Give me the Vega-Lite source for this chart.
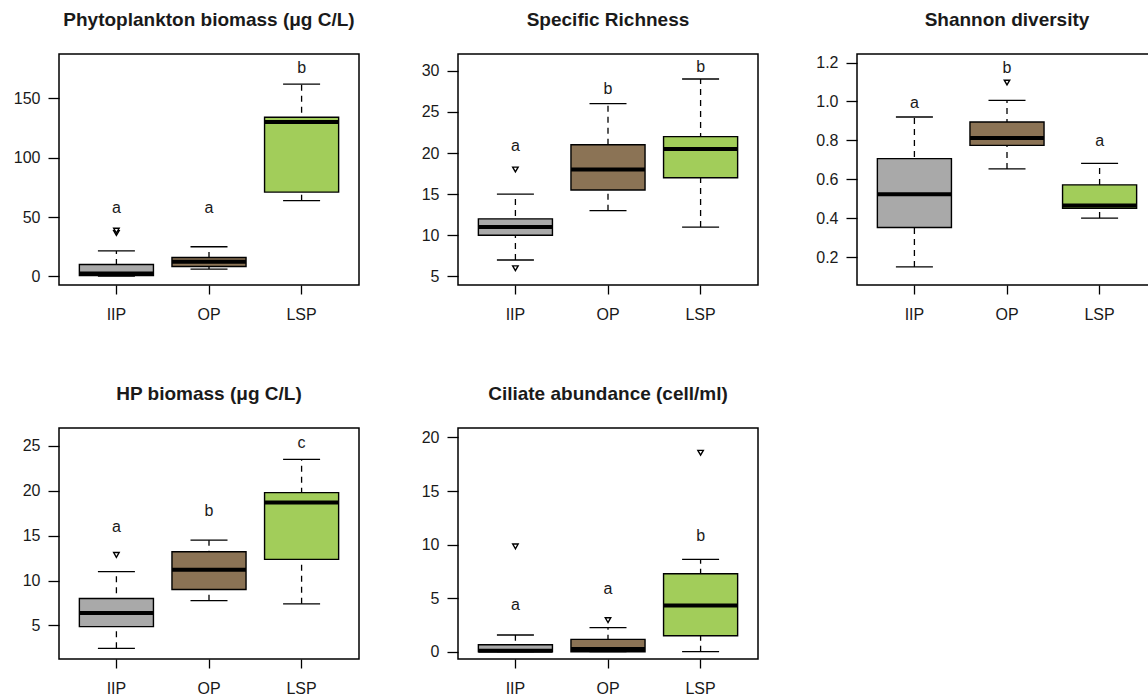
{
  "$schema": "https://vega.github.io/schema/vega-lite/v6.json",
  "background": "white",
  "padding": {"left": 12, "top": 10, "right": 0, "bottom": 0},
  "datasets": {
    "stats": [
      {"panel": "phyto", "group": "IIP", "lo": 0.3, "q1": 0.8, "med": 2.5, "q3": 10, "hi": 21.5, "letter": "a", "ly": 58},
      {"panel": "phyto", "group": "OP", "lo": 6.2, "q1": 8.4, "med": 12.4, "q3": 16, "hi": 25, "letter": "a", "ly": 58},
      {"panel": "phyto", "group": "LSP", "lo": 63.8, "q1": 71, "med": 130, "q3": 134, "hi": 161.8, "letter": "b", "ly": 175.5},
      {"panel": "rich", "group": "IIP", "lo": 7, "q1": 10, "med": 11, "q3": 12, "hi": 15, "letter": "a", "ly": 20.9},
      {"panel": "rich", "group": "OP", "lo": 13, "q1": 15.5, "med": 18, "q3": 21, "hi": 26, "letter": "b", "ly": 27.8},
      {"panel": "rich", "group": "LSP", "lo": 11, "q1": 17, "med": 20.5, "q3": 22, "hi": 29, "letter": "b", "ly": 30.5},
      {"panel": "shannon", "group": "IIP", "lo": 0.149, "q1": 0.352, "med": 0.523, "q3": 0.706, "hi": 0.92, "letter": "a", "ly": 0.991},
      {"panel": "shannon", "group": "OP", "lo": 0.653, "q1": 0.774, "med": 0.812, "q3": 0.894, "hi": 1.005, "letter": "b", "ly": 1.171},
      {"panel": "shannon", "group": "LSP", "lo": 0.40, "q1": 0.451, "med": 0.465, "q3": 0.571, "hi": 0.682, "letter": "a", "ly": 0.795},
      {"panel": "hp", "group": "IIP", "lo": 2.44, "q1": 4.86, "med": 6.38, "q3": 8.0, "hi": 11.0, "letter": "a", "ly": 16.0},
      {"panel": "hp", "group": "OP", "lo": 7.75, "q1": 9.0, "med": 11.2, "q3": 13.2, "hi": 14.5, "letter": "b", "ly": 17.8},
      {"panel": "hp", "group": "LSP", "lo": 7.4, "q1": 12.36, "med": 18.7, "q3": 19.8, "hi": 23.5, "letter": "c", "ly": 25.3},
      {"panel": "cil", "group": "IIP", "lo": 0, "q1": 0, "med": 0.1, "q3": 0.65, "hi": 1.56, "letter": "a", "ly": 4.36},
      {"panel": "cil", "group": "OP", "lo": 0, "q1": 0, "med": 0.25, "q3": 1.15, "hi": 2.24, "letter": "a", "ly": 5.9},
      {"panel": "cil", "group": "LSP", "lo": 0, "q1": 1.49, "med": 4.32, "q3": 7.28, "hi": 8.61, "letter": "b", "ly": 10.82}
    ],
    "outliers": [
      {"panel": "phyto", "group": "IIP", "value": 36.5},
      {"panel": "phyto", "group": "IIP", "value": 38.5},
      {"panel": "rich", "group": "IIP", "value": 18},
      {"panel": "rich", "group": "IIP", "value": 6},
      {"panel": "shannon", "group": "OP", "value": 1.097},
      {"panel": "hp", "group": "IIP", "value": 12.85},
      {"panel": "cil", "group": "IIP", "value": 9.83},
      {"panel": "cil", "group": "OP", "value": 2.95},
      {"panel": "cil", "group": "LSP", "value": 18.57}
    ]
  },
  "columns": 3,
  "spacing": {"row": 143, "column": 99},
  "bounds": "flush",
  "concat": [
    {
      "width": 300, "height": 231,
      "title": "Phytoplankton biomass (μg C/L)",
      "data": {"name": "stats"},
      "transform": [{"filter": "datum.panel === 'phyto'"}],
      "encoding": {"x": {"field": "group", "type": "nominal", "sort": ["IIP", "OP", "LSP"], "title": null, "scale": {"paddingInner": 0.2, "paddingOuter": 0.22}}},
      "layer": [
        {"mark": {"type": "rule", "strokeDash": [6, 5], "color": "black", "strokeWidth": 1.3},
         "encoding": {"y": {"field": "lo", "type": "quantitative", "title": null, "scale": {"domain": [-7.2, 187.2], "nice": false, "zero": false}, "axis": {"values": [0, 50, 100, 150]}}, "y2": {"field": "hi"}}},
        {"mark": {"type": "tick", "size": 37, "thickness": 1.3, "color": "black", "opacity": 1}, "encoding": {"y": {"field": "lo", "type": "quantitative", "title": null}}},
        {"mark": {"type": "tick", "size": 37, "thickness": 1.3, "color": "black", "opacity": 1}, "encoding": {"y": {"field": "hi", "type": "quantitative", "title": null}}},
        {"mark": {"type": "bar", "stroke": "black", "strokeWidth": 1.4, "opacity": 1},
         "encoding": {"y": {"field": "q1", "type": "quantitative", "title": null}, "y2": {"field": "q3"},
           "fill": {"field": "group", "type": "nominal", "scale": {"domain": ["IIP", "OP", "LSP"], "range": ["#A9A9A9", "#8B7355", "#A2CD5A"]}, "legend": null}}},
        {"mark": {"type": "tick", "size": 74, "thickness": 4, "color": "black", "opacity": 1}, "encoding": {"y": {"field": "med", "type": "quantitative", "title": null}}},
        {"data": {"name": "outliers"}, "transform": [{"filter": "datum.panel === 'phyto'"}],
         "mark": {"type": "point", "shape": "triangle-down", "size": 30, "filled": true, "fill": "white", "stroke": "black", "strokeWidth": 1.4, "opacity": 1},
         "encoding": {"y": {"field": "value", "type": "quantitative", "title": null}}},
        {"mark": {"type": "text", "fontSize": 16, "baseline": "middle", "font": "Liberation Sans", "color": "#1a1a1a"},
         "encoding": {"y": {"field": "ly", "type": "quantitative", "title": null}, "text": {"field": "letter"}}}
      ]
    },
    {
      "width": 300, "height": 231,
      "title": "Specific Richness",
      "data": {"name": "stats"},
      "transform": [{"filter": "datum.panel === 'rich'"}],
      "encoding": {"x": {"field": "group", "type": "nominal", "sort": ["IIP", "OP", "LSP"], "title": null, "scale": {"paddingInner": 0.2, "paddingOuter": 0.22}}},
      "layer": [
        {"mark": {"type": "rule", "strokeDash": [6, 5], "color": "black", "strokeWidth": 1.3},
         "encoding": {"y": {"field": "lo", "type": "quantitative", "title": null, "scale": {"domain": [3.96, 32.04], "nice": false, "zero": false}, "axis": {"values": [5, 10, 15, 20, 25, 30]}}, "y2": {"field": "hi"}}},
        {"mark": {"type": "tick", "size": 37, "thickness": 1.3, "color": "black", "opacity": 1}, "encoding": {"y": {"field": "lo", "type": "quantitative", "title": null}}},
        {"mark": {"type": "tick", "size": 37, "thickness": 1.3, "color": "black", "opacity": 1}, "encoding": {"y": {"field": "hi", "type": "quantitative", "title": null}}},
        {"mark": {"type": "bar", "stroke": "black", "strokeWidth": 1.4, "opacity": 1},
         "encoding": {"y": {"field": "q1", "type": "quantitative", "title": null}, "y2": {"field": "q3"},
           "fill": {"field": "group", "type": "nominal", "scale": {"domain": ["IIP", "OP", "LSP"], "range": ["#A9A9A9", "#8B7355", "#A2CD5A"]}, "legend": null}}},
        {"mark": {"type": "tick", "size": 74, "thickness": 4, "color": "black", "opacity": 1}, "encoding": {"y": {"field": "med", "type": "quantitative", "title": null}}},
        {"data": {"name": "outliers"}, "transform": [{"filter": "datum.panel === 'rich'"}],
         "mark": {"type": "point", "shape": "triangle-down", "size": 30, "filled": true, "fill": "white", "stroke": "black", "strokeWidth": 1.4, "opacity": 1},
         "encoding": {"y": {"field": "value", "type": "quantitative", "title": null}}},
        {"mark": {"type": "text", "fontSize": 16, "baseline": "middle", "font": "Liberation Sans", "color": "#1a1a1a"},
         "encoding": {"y": {"field": "ly", "type": "quantitative", "title": null}, "text": {"field": "letter"}}}
      ]
    },
    {
      "width": 300, "height": 231,
      "title": "Shannon diversity",
      "data": {"name": "stats"},
      "transform": [{"filter": "datum.panel === 'shannon'"}],
      "encoding": {"x": {"field": "group", "type": "nominal", "sort": ["IIP", "OP", "LSP"], "title": null, "scale": {"paddingInner": 0.2, "paddingOuter": 0.22}}},
      "layer": [
        {"mark": {"type": "rule", "strokeDash": [6, 5], "color": "black", "strokeWidth": 1.3},
         "encoding": {"y": {"field": "lo", "type": "quantitative", "title": null, "scale": {"domain": [0.056, 1.244], "nice": false, "zero": false}, "axis": {"values": [0.2, 0.4, 0.6, 0.8, 1.0, 1.2], "format": ".1f"}}, "y2": {"field": "hi"}}},
        {"mark": {"type": "tick", "size": 37, "thickness": 1.3, "color": "black", "opacity": 1}, "encoding": {"y": {"field": "lo", "type": "quantitative", "title": null}}},
        {"mark": {"type": "tick", "size": 37, "thickness": 1.3, "color": "black", "opacity": 1}, "encoding": {"y": {"field": "hi", "type": "quantitative", "title": null}}},
        {"mark": {"type": "bar", "stroke": "black", "strokeWidth": 1.4, "opacity": 1},
         "encoding": {"y": {"field": "q1", "type": "quantitative", "title": null}, "y2": {"field": "q3"},
           "fill": {"field": "group", "type": "nominal", "scale": {"domain": ["IIP", "OP", "LSP"], "range": ["#A9A9A9", "#8B7355", "#A2CD5A"]}, "legend": null}}},
        {"mark": {"type": "tick", "size": 74, "thickness": 4, "color": "black", "opacity": 1}, "encoding": {"y": {"field": "med", "type": "quantitative", "title": null}}},
        {"data": {"name": "outliers"}, "transform": [{"filter": "datum.panel === 'shannon'"}],
         "mark": {"type": "point", "shape": "triangle-down", "size": 30, "filled": true, "fill": "white", "stroke": "black", "strokeWidth": 1.4, "opacity": 1},
         "encoding": {"y": {"field": "value", "type": "quantitative", "title": null}}},
        {"mark": {"type": "text", "fontSize": 16, "baseline": "middle", "font": "Liberation Sans", "color": "#1a1a1a"},
         "encoding": {"y": {"field": "ly", "type": "quantitative", "title": null}, "text": {"field": "letter"}}}
      ]
    },
    {
      "width": 300, "height": 231,
      "title": "HP biomass (μg C/L)",
      "data": {"name": "stats"},
      "transform": [{"filter": "datum.panel === 'hp'"}],
      "encoding": {"x": {"field": "group", "type": "nominal", "sort": ["IIP", "OP", "LSP"], "title": null, "scale": {"paddingInner": 0.2, "paddingOuter": 0.22}}},
      "layer": [
        {"mark": {"type": "rule", "strokeDash": [6, 5], "color": "black", "strokeWidth": 1.3},
         "encoding": {"y": {"field": "lo", "type": "quantitative", "title": null, "scale": {"domain": [1.25, 27.0], "nice": false, "zero": false}, "axis": {"values": [5, 10, 15, 20, 25]}}, "y2": {"field": "hi"}}},
        {"mark": {"type": "tick", "size": 37, "thickness": 1.3, "color": "black", "opacity": 1}, "encoding": {"y": {"field": "lo", "type": "quantitative", "title": null}}},
        {"mark": {"type": "tick", "size": 37, "thickness": 1.3, "color": "black", "opacity": 1}, "encoding": {"y": {"field": "hi", "type": "quantitative", "title": null}}},
        {"mark": {"type": "bar", "stroke": "black", "strokeWidth": 1.4, "opacity": 1},
         "encoding": {"y": {"field": "q1", "type": "quantitative", "title": null}, "y2": {"field": "q3"},
           "fill": {"field": "group", "type": "nominal", "scale": {"domain": ["IIP", "OP", "LSP"], "range": ["#A9A9A9", "#8B7355", "#A2CD5A"]}, "legend": null}}},
        {"mark": {"type": "tick", "size": 74, "thickness": 4, "color": "black", "opacity": 1}, "encoding": {"y": {"field": "med", "type": "quantitative", "title": null}}},
        {"data": {"name": "outliers"}, "transform": [{"filter": "datum.panel === 'hp'"}],
         "mark": {"type": "point", "shape": "triangle-down", "size": 30, "filled": true, "fill": "white", "stroke": "black", "strokeWidth": 1.4, "opacity": 1},
         "encoding": {"y": {"field": "value", "type": "quantitative", "title": null}}},
        {"mark": {"type": "text", "fontSize": 16, "baseline": "middle", "font": "Liberation Sans", "color": "#1a1a1a"},
         "encoding": {"y": {"field": "ly", "type": "quantitative", "title": null}, "text": {"field": "letter"}}}
      ]
    },
    {
      "width": 300, "height": 231,
      "title": "Ciliate abundance (cell/ml)",
      "data": {"name": "stats"},
      "transform": [{"filter": "datum.panel === 'cil'"}],
      "encoding": {"x": {"field": "group", "type": "nominal", "sort": ["IIP", "OP", "LSP"], "title": null, "scale": {"paddingInner": 0.2, "paddingOuter": 0.22}}},
      "layer": [
        {"mark": {"type": "rule", "strokeDash": [6, 5], "color": "black", "strokeWidth": 1.3},
         "encoding": {"y": {"field": "lo", "type": "quantitative", "title": null, "scale": {"domain": [-0.68, 20.88], "nice": false, "zero": false}, "axis": {"values": [0, 5, 10, 15, 20]}}, "y2": {"field": "hi"}}},
        {"mark": {"type": "tick", "size": 37, "thickness": 1.3, "color": "black", "opacity": 1}, "encoding": {"y": {"field": "lo", "type": "quantitative", "title": null}}},
        {"mark": {"type": "tick", "size": 37, "thickness": 1.3, "color": "black", "opacity": 1}, "encoding": {"y": {"field": "hi", "type": "quantitative", "title": null}}},
        {"mark": {"type": "bar", "stroke": "black", "strokeWidth": 1.4, "opacity": 1},
         "encoding": {"y": {"field": "q1", "type": "quantitative", "title": null}, "y2": {"field": "q3"},
           "fill": {"field": "group", "type": "nominal", "scale": {"domain": ["IIP", "OP", "LSP"], "range": ["#A9A9A9", "#8B7355", "#A2CD5A"]}, "legend": null}}},
        {"mark": {"type": "tick", "size": 74, "thickness": 4, "color": "black", "opacity": 1}, "encoding": {"y": {"field": "med", "type": "quantitative", "title": null}}},
        {"data": {"name": "outliers"}, "transform": [{"filter": "datum.panel === 'cil'"}],
         "mark": {"type": "point", "shape": "triangle-down", "size": 30, "filled": true, "fill": "white", "stroke": "black", "strokeWidth": 1.4, "opacity": 1},
         "encoding": {"y": {"field": "value", "type": "quantitative", "title": null}}},
        {"mark": {"type": "text", "fontSize": 16, "baseline": "middle", "font": "Liberation Sans", "color": "#1a1a1a"},
         "encoding": {"y": {"field": "ly", "type": "quantitative", "title": null}, "text": {"field": "letter"}}}
      ]
    }
  ],
  "config": {
    "font": "Liberation Sans",
    "view": {"stroke": "black", "strokeWidth": 1.5},
    "axis": {"domain": false, "grid": false, "tickColor": "black", "tickWidth": 1.3, "labelFont": "Liberation Sans", "labelFontSize": 16, "labelColor": "#1a1a1a"},
    "axisY": {"tickSize": 11, "labelPadding": 8},
    "axisX": {"tickSize": 9, "labelPadding": 12, "labelAngle": 0},
    "title": {"fontSize": 19, "fontWeight": "bold", "font": "Liberation Sans", "offset": 24, "color": "#1a1a1a", "anchor": "middle"}
  }
}
